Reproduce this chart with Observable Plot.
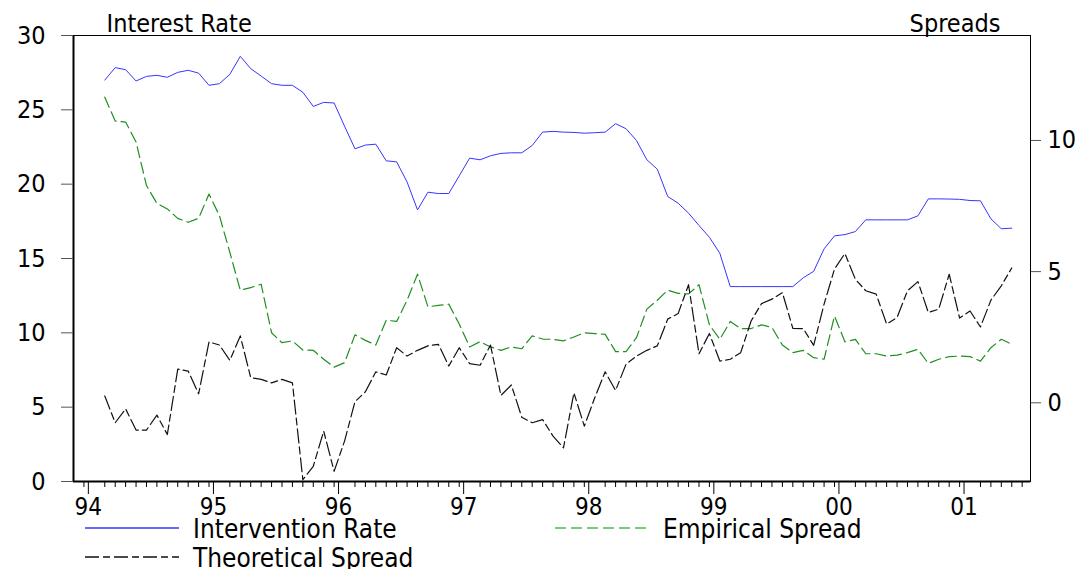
<!DOCTYPE html>
<html>
<head>
<meta charset="utf-8">
<script src="https://cdn.jsdelivr.net/npm/d3@7"></script>
<script src="https://cdn.jsdelivr.net/npm/@observablehq/plot@0.6"></script>
<style>
  html, body { margin: 0; padding: 0; background: #fff; overflow: hidden; }
  #wrap { width: 1088px; height: 569px; position: relative; }
  .cf { font-family: "DejaVu Sans Condensed", "DejaVu Sans", sans-serif; font-stretch: condensed; }
  #legend { position: absolute; left: 0; top: 512px; pointer-events: none; }
</style>
</head>
<body>
<div id="wrap" class="cf"></div>
<script>
// ---- data (monthly, Feb 1994 .. May 2001) ----
const firstYear = 1994;          // January of this year = month index 0
const firstMonthIndex = 1;       // first observation: February 1994
const yearLabels = ["94", "95", "96", "97", "98", "99", "00", "01"];
const leftTicks = [0, 5, 10, 15, 20, 25, 30];
const spreadTicks = [0, 5, 10];
const leftDomain = [0, 30];
const spreadDomain = [-3, 14];

const interventionRate = [
  27.0, 27.84, 27.7, 26.94, 27.25, 27.32, 27.19, 27.52, 27.66, 27.47,
  26.65, 26.76, 27.39, 28.6, 27.77, 27.27, 26.76, 26.65, 26.65, 26.18,
  25.23, 25.5, 25.46, 23.9, 22.38, 22.63, 22.69, 21.57, 21.5, 20.14,
  18.27, 19.46, 19.37, 19.37, 20.56, 21.75, 21.64, 21.91, 22.07, 22.11,
  22.11, 22.6, 23.5, 23.55, 23.5, 23.48, 23.43, 23.46, 23.5, 24.07,
  23.73, 22.94, 21.64, 21.01, 19.17, 18.72, 18.05, 17.22, 16.43, 15.35,
  13.11, 13.11, 13.11, 13.11, 13.11, 13.11, 13.11, 13.7, 14.14, 15.65,
  16.52, 16.61, 16.81, 17.6, 17.6, 17.6, 17.6, 17.6, 17.87, 19.01,
  19.01, 19.0, 18.98, 18.9, 18.88, 17.67, 17.0, 17.04
];

const empiricalSpread = [
  11.65, 10.74, 10.7, 9.94, 8.28, 7.6, 7.39, 7.03, 6.88, 7.03,
  7.96, 7.13, 5.73, 4.29, 4.39, 4.52, 2.67, 2.29, 2.36, 2.01,
  2.0, 1.66, 1.36, 1.53, 2.59, 2.38, 2.2, 3.15, 3.1, 3.91,
  4.9, 3.66, 3.71, 3.76, 3.0, 2.13, 2.33, 2.13, 2.0, 2.13,
  2.06, 2.55, 2.43, 2.42, 2.36, 2.51, 2.67, 2.64, 2.61, 1.95,
  1.95, 2.48, 3.57, 3.91, 4.29, 4.17, 4.15, 4.5, 2.97, 2.42,
  3.1, 2.83, 2.83, 2.97, 2.87, 2.2, 1.91, 2.0, 1.72, 1.66,
  3.31, 2.32, 2.42, 1.87, 1.87, 1.78, 1.82, 1.91, 2.04, 1.5,
  1.66, 1.76, 1.78, 1.76, 1.59, 2.1, 2.42, 2.23
];

const theoreticalSpread = [
  0.26, -0.76, -0.23, -1.04, -1.04, -0.47, -1.21, 1.28, 1.21, 0.34,
  2.32, 2.2, 1.62, 2.55, 0.96, 0.89, 0.76, 0.89, 0.76, -2.93,
  -2.42, -1.08, -2.61, -1.46, 0.04, 0.42, 1.18, 1.06, 2.1, 1.78,
  2.0, 2.17, 2.23, 1.4, 2.1, 1.49, 1.43, 2.2, 0.28, 0.68,
  -0.55, -0.76, -0.64, -1.27, -1.72, 0.38, -0.89, 0.19, 1.18, 0.47,
  1.47, 1.78, 2.0, 2.17, 3.19, 3.4, 4.5, 1.87, 2.64, 1.59,
  1.66, 1.91, 3.12, 3.78, 3.95, 4.2, 2.84, 2.83, 2.19, 3.76,
  5.1, 5.69, 4.71, 4.27, 4.14, 3.0, 3.25, 4.27, 4.62, 3.44,
  3.57, 4.9, 3.23, 3.5, 2.89, 3.91, 4.46, 5.14
];

// ---- build table ----
const rows = interventionRate.map((r, i) => ({
  m: firstMonthIndex + i,
  rate: r,
  emp: empiricalSpread[i],
  theo: theoreticalSpread[i]
}));

// spreads are drawn against the right-hand axis: map its domain onto the left one
const toLeft = s => leftDomain[0] + (s - spreadDomain[0]) * (leftDomain[1] - leftDomain[0]) / (spreadDomain[1] - spreadDomain[0]);

const majorTicks = yearLabels.map((_, i) => i * 12);
const minorTicks = d3.range(-1, 90).filter(m => m % 12 !== 0);

const blue = "#3535ff";
const green = "#1f8f1f";
const black = "#111";
const greenDash = "11,5";
const blackDash = "14,4,7,4";
const FS = 25;
const SVG_H = 523;
const LEG_TOP = 512;

const chart = Plot.plot({
  width: 1088,
  height: SVG_H,
  marginTop: 35,
  marginLeft: 73,
  marginRight: 58,
  marginBottom: SVG_H - 481,
  style: { fontFamily: '"DejaVu Sans Condensed", "DejaVu Sans", sans-serif', fontSize: FS + "px", background: "transparent", color: "black" },
  x: { type: "linear", domain: [-2, 89.8] },
  y: { type: "linear", domain: leftDomain },
  marks: [
    Plot.frame({ stroke: "black", strokeWidth: 1 }),
    Plot.ruleX([-2], { stroke: "black", strokeWidth: 2 }),
    Plot.ruleY([0], { stroke: "black", strokeWidth: 2 }),
    Plot.axisY(leftTicks, { anchor: "left", tickSize: 12, tickPadding: 16, label: null, fontSize: FS, stroke: "#555" }),
    Plot.axisY(spreadTicks.map(toLeft), { anchor: "right", tickSize: 10, tickPadding: 7, label: null, fontSize: FS, stroke: "#555",
      tickFormat: (d, i) => String(spreadTicks[i]) }),
    Plot.axisX(minorTicks, { anchor: "bottom", tickSize: 6, text: null, label: null }),
    Plot.axisX(majorTicks, { anchor: "bottom", tickSize: 13, tickPadding: 3, label: null, fontSize: FS - 1, dx: -6,
      tickFormat: (d, i) => yearLabels[i] }),
    Plot.line(rows, { x: "m", y: d => toLeft(d.emp), stroke: green, strokeWidth: 1.2, strokeDasharray: greenDash }),
    Plot.line(rows, { x: "m", y: d => toLeft(d.theo), stroke: black, strokeWidth: 1.2, strokeDasharray: blackDash }),
    Plot.line(rows, { x: "m", y: "rate", stroke: blue, strokeWidth: 1 }),
    Plot.text(["Interest Rate"], { frameAnchor: "top-left", textAnchor: "start", lineAnchor: "bottom", dx: 33, dy: -4, fontSize: FS }),
    Plot.text(["Spreads"], { frameAnchor: "top-right", textAnchor: "end", lineAnchor: "bottom", dx: -30, dy: -4, fontSize: FS })
  ]
});

const wrap = document.getElementById("wrap");
wrap.appendChild(chart);

// ---- legend below the chart ----
const legendItems = [
  { label: "Intervention Rate", color: blue, dash: null, x: 85, row: 0 },
  { label: "Empirical Spread", color: "#4cbb4c", dash: greenDash, x: 555, row: 0 },
  { label: "Theoretical Spread", color: black, dash: blackDash, x: 85, row: 1 }
];
const ns = "http://www.w3.org/2000/svg";
const leg = document.createElementNS(ns, "svg");
leg.setAttribute("id", "legend");
leg.setAttribute("width", 1088);
leg.setAttribute("height", 569 - LEG_TOP);
legendItems.forEach(it => {
  const cy = (it.row === 0 ? 528 : 557) - LEG_TOP;
  const ln = document.createElementNS(ns, "line");
  ln.setAttribute("x1", it.x); ln.setAttribute("x2", it.x + 94);
  ln.setAttribute("y1", cy); ln.setAttribute("y2", cy);
  ln.setAttribute("stroke", it.color); ln.setAttribute("stroke-width", 1.3);
  if (it.dash) ln.setAttribute("stroke-dasharray", it.dash);
  leg.appendChild(ln);
  const tx = document.createElementNS(ns, "text");
  tx.setAttribute("x", it.x + 108);
  tx.setAttribute("y", cy + 10);
  tx.setAttribute("font-size", FS + 1);
  tx.setAttribute("font-family", '"DejaVu Sans Condensed", "DejaVu Sans", sans-serif');
  tx.setAttribute("fill", "black");
  tx.textContent = it.label;
  leg.appendChild(tx);
});
wrap.appendChild(leg);
</script>
</body>
</html>
